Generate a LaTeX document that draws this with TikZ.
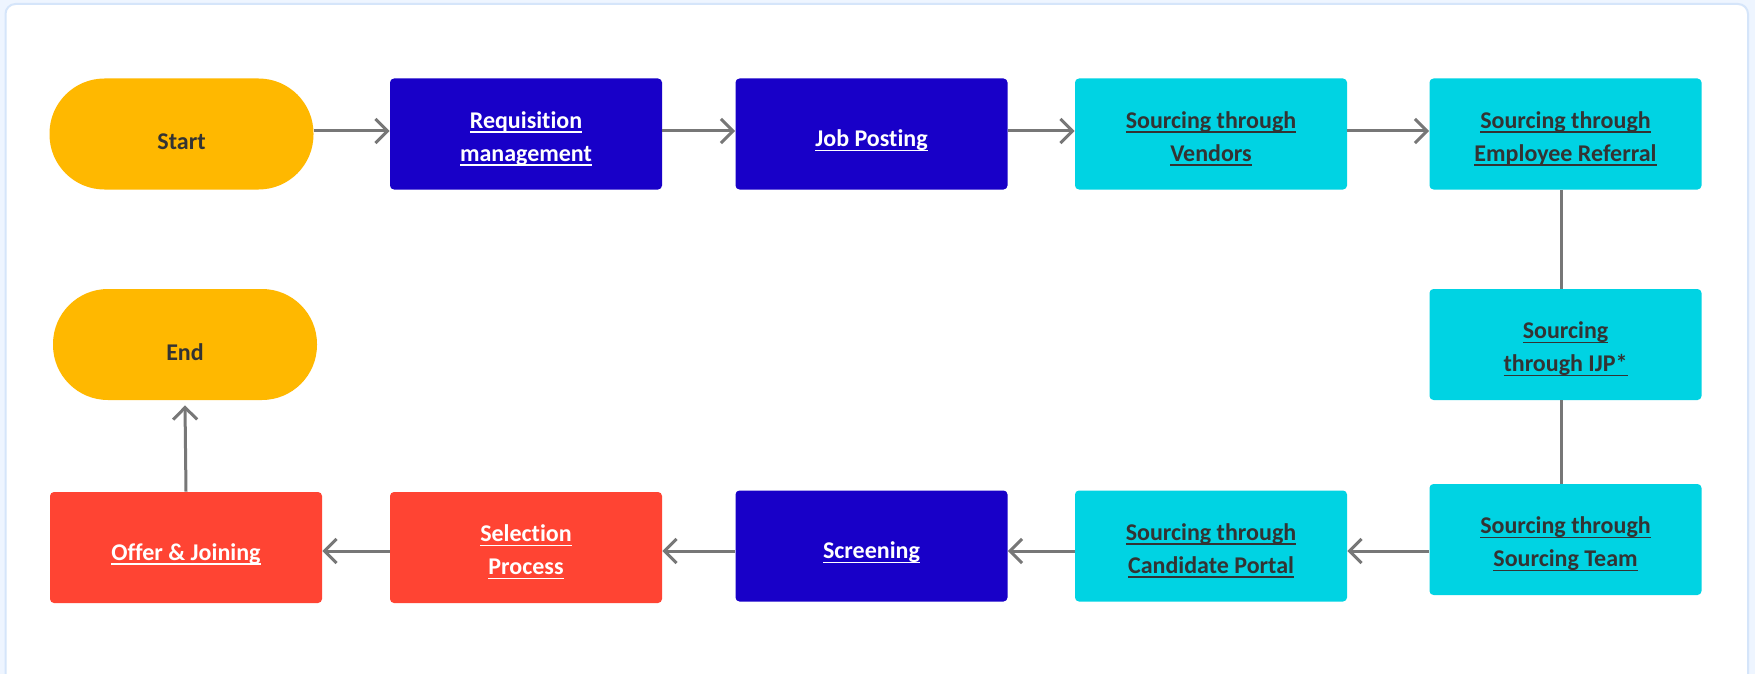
\documentclass[tikz,border=0pt]{standalone}
\usepackage{fontspec}
\setmainfont[Ligatures=NoCommon]{Carlito}
\usetikzlibrary{arrows.meta}

\definecolor{pagebg}{HTML}{EEF5FF}
\definecolor{framec}{HTML}{D5E5FA}
\definecolor{termfill}{HTML}{FFB800}
\definecolor{navyfill}{HTML}{1800C8}
\definecolor{cyanfill}{HTML}{00D3E3}
\definecolor{redfill}{HTML}{FF4433}
\definecolor{ink}{HTML}{333333}
\definecolor{linegrey}{HTML}{777777}

% underlined link-style text, set a little low in its box
\newsavebox{\ulnbox}
\newcommand{\uln}[2][2.3pt]{\raisebox{-#1}[\height][\depth]{%
  \sbox{\ulnbox}{#2}\rlap{\rule[-2.4pt]{\wd\ulnbox}{0.8pt}}\usebox{\ulnbox}}}
\newcommand{\low}[1]{\raisebox{-3.7pt}[\height][\depth]{#1}}

\tikzset{
  stepbox/.style={rectangle, rounded corners=2pt, minimum width=136pt,
    minimum height=55.5pt, inner sep=0pt, align=center,
    font=\bfseries\fontsize{12}{16.5}\selectfont},
  termbox/.style={stepbox, rounded corners=27.5pt, minimum width=132pt,
    fill=termfill, text=ink},
  navybox/.style={stepbox, fill=navyfill, text=white},
  cyanbox/.style={stepbox, fill=cyanfill, text=ink},
  redbox/.style={stepbox, fill=redfill, text=white},
  conn/.style={draw=linegrey, line width=1.5pt},
  arr/.style={conn, -{Straight Barb[length=6pt,width=12pt]}},
}

\begin{document}
\begin{tikzpicture}[x=0.5pt,y=-0.5pt]
\useasboundingbox (0,0) rectangle (1755,674);
\fill[pagebg] (0,0) rectangle (1755,674);
\begin{scope}
  \clip (0,0) rectangle (1755,674);
  \filldraw[fill=white, draw=framec, line width=1pt, rounded corners=5pt]
    (5.5,4) rectangle (1748,700);
\end{scope}

% top row
\node[termbox] (start) at (181.5,134) {\low{Start}};
\node[navybox] (req) at (526,134) {\uln{Requisition}\\\uln{management}};
\node[navybox] (job) at (871.5,134) {\uln[3.3pt]{Job Posting}};
\node[cyanbox] (ven) at (1211,134) {\uln{Sourcing through}\\\uln{Vendors}};
\node[cyanbox] (ref) at (1565.5,134) {\uln{Sourcing through}\\\uln{Employee Referral}};

% right column
\node[cyanbox] (ijp) at (1565.5,344.5) {\uln{Sourcing}\\\uln{through IJP*}};
\node[cyanbox] (team) at (1565.5,539.5) {\uln{Sourcing through}\\\uln{Sourcing Team}};

% bottom row
\node[cyanbox] (cand) at (1211,546) {\uln{Sourcing through}\\\uln{Candidate Portal}};
\node[navybox] (scr) at (871.5,546) {\uln[3.3pt]{Screening}};
\node[redbox] (sel) at (526,547.5) {\uln{Selection}\\\uln{Process}};
\node[redbox] (off) at (186,547.5) {\uln[3.3pt]{Offer \& Joining}};

% end
\node[termbox] (end) at (185,344.5) {\low{End}};

% connector levels
\coordinate (r1) at (0,131);
\coordinate (r3) at (0,551);

\draw[arr] (start.east |- r1) -- (req.west |- r1);
\draw[arr] (req.east |- r1) -- (job.west |- r1);
\draw[arr] (job.east |- r1) -- (ven.west |- r1);
\draw[arr] (ven.east |- r1) -- (ref.west |- r1);

\draw[conn] ([xshift=-2.25pt]ref.south) -- ([xshift=-2.25pt]ijp.north);
\draw[conn] ([xshift=-2.25pt]ijp.south) -- ([xshift=-2.25pt]team.north);

\draw[arr] (team.west |- r3) -- (cand.east |- r3);
\draw[arr] (cand.west |- r3) -- (scr.east |- r3);
\draw[arr] (scr.west |- r3) -- (sel.east |- r3);
\draw[arr] (sel.west |- r3) -- (off.east |- r3);

\draw[arr] (off.north) -- ([yshift=-2.5pt]end.south);
\end{tikzpicture}
\end{document}
